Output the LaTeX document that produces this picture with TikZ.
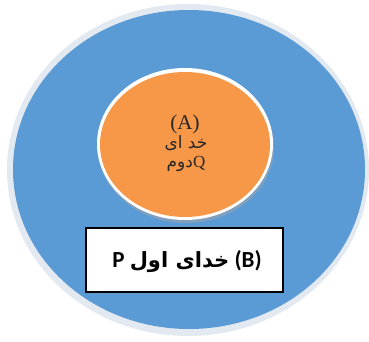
\documentclass[tikz,border=0pt]{standalone}
\usepackage{fontspec}
\setmainfont{Liberation Serif}
\newfontfamily\arabicfont[Script=Arabic]{DejaVu Sans}
\newfontfamily\arabicbold[Script=Arabic]{DejaVu Sans Bold}
\newfontfamily\boxfont{Carlito}
\TeXXeTstate=1
\definecolor{ringblue}{RGB}{91,155,213}
\definecolor{coreorange}{RGB}{247,152,72}
\definecolor{rimgrey}{RGB}{226,233,240}
\tikzset{
  rimline/.style={fill=rimgrey},
  bluefill/.style={fill=ringblue},
  orangefill/.style={fill=coreorange},
  labelbox/.style={draw=black, line width=1.5pt, fill=white},
}
\begin{document}
\begin{tikzpicture}[x=1pt,y=-1pt]
\useasboundingbox (0,0) rectangle (369,342);
% outer disc
\path[rimline] (188,170) ellipse [x radius=181, y radius=166];
\path[bluefill] (189,169.5) ellipse [x radius=176, y radius=159.5];
% inner disc
\path[fill=black!35, opacity=0.5] (186,147) ellipse [x radius=88, y radius=76];
\path[fill=white] (185,144) ellipse [x radius=88, y radius=76];
\path[orangefill] (185,144.5) ellipse [x radius=85, y radius=72.5];
% inner text
\node[font=\fontsize{21}{23}\selectfont, text=black!85] (a) at (185,124) {(A)};
\node[font=\arabicfont\fontsize{17}{19}\selectfont, text=black!85] (a2) at (186,143) {\beginR خد ای\endR};
\node[font=\arabicfont\fontsize{17}{19}\selectfont, text=black!85] (a3) at (186,164) {\beginR\beginL{\rmfamily Q}\endL دوم\endR};
% box
\draw[labelbox] (86,228) rectangle (283,292);
\node[font=\fontsize{21}{23}\selectfont] (b) at (187,262) {\beginR\beginL{\boxfont\bfseries\fontsize{23}{25}\selectfont (B)}\endL{} {\arabicbold خدای اول} \beginL{\boxfont\bfseries\fontsize{23}{25}\selectfont P}\endL\endR};
\end{tikzpicture}
\end{document}
